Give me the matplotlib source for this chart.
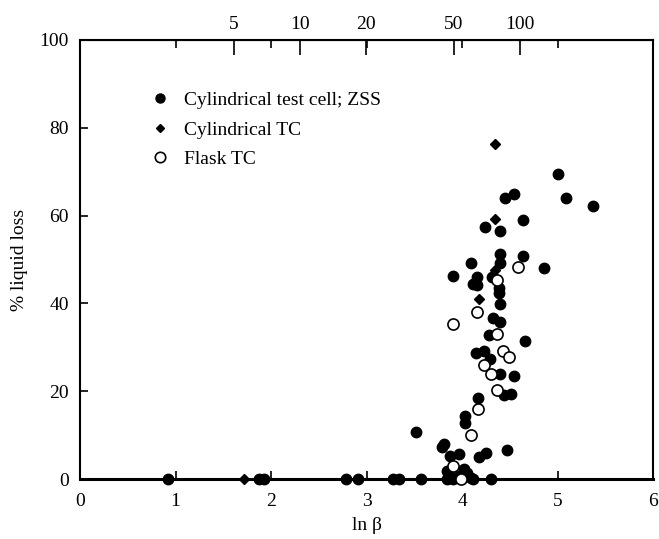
import matplotlib.pyplot as plt
from matplotlib.lines import Line2D
import numpy as np

plt.rcParams['font.family'] = ['Liberation Serif', 'DejaVu Serif']

# Cylindrical test cell; ZSS (filled circles)
zss_x = [0.92, 1.87, 1.93, 2.79, 2.91, 3.28, 3.34, 3.57, 3.84, 3.91, 4.12, 4.30,
         3.86, 3.84, 4.02, 4.05, 3.88, 4.09, 3.97, 4.04,
         3.52, 3.81, 3.79, 3.87, 3.97, 4.18, 4.25, 4.47,
         4.03, 4.03, 4.17, 4.44, 4.51,
         4.40, 4.54, 4.29, 4.15, 4.23, 4.66, 4.28, 4.32, 4.40, 4.40, 4.39, 4.39,
         4.31, 4.16, 3.91, 4.12, 4.16, 4.09, 4.40, 4.40, 4.64, 4.86,
         4.24, 4.40, 4.64, 4.45, 4.54, 5.00, 5.09, 5.37]
zss_y = [0, 0, 0, 0, 0, 0, 0, 0, 0, 0, 0, 0,
         1.1, 1.8, 2.2, 1.4, 0.3, 0.3, 0.7, 0.8,
         10.7, 7.9, 7.2, 5.2, 5.7, 4.9, 5.9, 6.6,
         14.4, 12.7, 18.4, 19.2, 19.3,
         24.0, 23.4, 27.3, 28.6, 29.1, 31.4, 32.9, 36.6, 35.7, 39.9, 43.4, 42.3,
         45.9, 46.1, 46.2, 44.4, 44.1, 49.2, 49.2, 51.3, 50.7, 48.0,
         57.4, 56.6, 59.1, 64.0, 65.0, 69.5, 63.9, 62.3]

# Cylindrical TC (diamonds)
ctc_x = [1.72, 4.18, 4.35, 4.35, 4.35]
ctc_y = [0, 41.0, 47.7, 59.2, 76.2]

# Flask TC (open circles)
flask_x = [4.37, 4.59, 4.16, 3.91, 4.37, 4.43, 4.49, 4.23, 4.30, 4.37, 4.17, 4.09, 3.91, 3.99]
flask_y = [45.3, 48.2, 38.1, 35.2, 33.0, 29.1, 27.9, 26.0, 24.0, 20.2, 15.9, 10.0, 3.0, 0]

beta_ticks = [5, 10, 20, 50, 100]

fig = plt.figure(figsize=(6.59, 5.39), dpi=100)
ax = fig.add_axes([80 / 659, 1 - 479 / 539, 573 / 659, 439 / 539])

ax.plot(zss_x, zss_y, 'o', color='black', ms=7.5, clip_on=False, zorder=3)
ax.plot(ctc_x, ctc_y, 'D', color='black', ms=5, clip_on=False, zorder=3)
ax.plot(flask_x, flask_y, 'o', mfc='white', mec='black', mew=1.2, ms=8,
        clip_on=False, zorder=4)

ax.set_xlim(0, 6)
ax.set_ylim(0, 100)
ax.set_xticks(range(7))
ax.set_yticks(range(0, 101, 20))
ax.tick_params(direction='in', length=6, width=1.2, labelsize=14,
               top=True, right=False)
ax.tick_params(axis='x', pad=10)
ax.tick_params(axis='y', pad=8)
for s in ax.spines.values():
    s.set_linewidth(1.5)
ax.spines['bottom'].set_linewidth(2.2)

top = ax.secondary_xaxis('top')
top.set_xticks(np.log(beta_ticks))
top.set_xticklabels([str(b) for b in beta_ticks])
top.tick_params(direction='in', length=11, width=1.2, labelsize=14, pad=5)

ax.set_xlabel('ln β', fontsize=14, labelpad=5)
ax.set_ylabel('% liquid loss', fontsize=14, labelpad=8)

handles = [
    Line2D([], [], ls='none', marker='o', color='black', ms=6.5),
    Line2D([], [], ls='none', marker='D', color='black', ms=4.5),
    Line2D([], [], ls='none', marker='o', mfc='white', mec='black', mew=1.2, ms=7.5),
]
labels = ['Cylindrical test cell; ZSS', 'Cylindrical TC', 'Flask TC']
ax.legend(handles, labels, loc='upper left', bbox_to_anchor=(0.115, 0.90),
          frameon=False, fontsize=14, handlelength=0.6, handletextpad=0.95,
          labelspacing=0.6, borderaxespad=0)

fig.savefig('out.png', dpi=100)
